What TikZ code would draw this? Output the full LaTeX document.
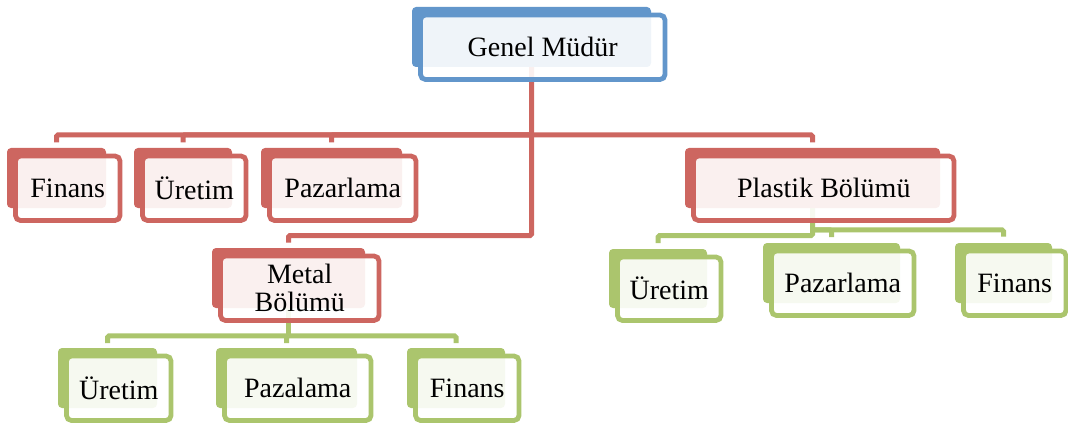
\documentclass[tikz,border=0pt]{standalone}
\usepackage{fontspec}
\setmainfont{Liberation Serif}
\usetikzlibrary{calc}

\pgfdeclarelayer{links}
\pgfsetlayers{links,main}

\definecolor{unitblue}{RGB}{98,150,203}
\definecolor{unitred}{RGB}{205,102,96}
\definecolor{unitgreen}{RGB}{171,197,109}

\tikzset{
  tabbox/.style={rounded corners=4pt, inner sep=0pt, outer sep=0pt, draw=none},
  frontbox/.style={rounded corners=5pt, line width=4.8pt, fill=white,
    fill opacity=0.9, draw opacity=1, text opacity=1, text=black,
    inner sep=0pt, outer sep=0pt, align=center,
    font=\fontsize{28}{28}\selectfont},
  link/.style={line width=5pt, rounded corners=1.5pt},
}

% #1 name, #2 colour, #3/#4 centre of the coloured tab, #5/#6 tab size, #7 label
\newcommand{\orgunit}[7]{%
  \node[tabbox, fill=#2, minimum width=#5pt, minimum height=#6pt] (#1) at (#3,#4) {};
  \node[frontbox, draw=#2, minimum width=#5pt+5.5pt, minimum height=#6pt+4.5pt]
    (#1-f) at (#3+11.25,#4+10.25) {#7};
}

\begin{document}
\begin{tikzpicture}[x=1pt,y=-1pt]
\useasboundingbox (0,0) rectangle (1068,425);

% top level
\orgunit{gm}{unitblue}{531.5}{37}{239}{60}{Genel Müdür}

% staff units and divisions
\orgunit{finR}{unitred}{56.5}{178}{99}{60}{Finans}
\orgunit{uretR}{unitred}{183}{178}{98}{60}{Üretim}
\orgunit{pazR}{unitred}{331.5}{178}{141}{60}{Pazarlama}
\orgunit{plastik}{unitred}{812.5}{178}{255}{60}{Plastik Bölümü}
\orgunit{metal}{unitred}{288.5}{278}{153}{60}{Metal\\Bölümü}

% metal division
\orgunit{uretG1}{unitgreen}{107.5}{378}{99}{60}{Üretim}
\orgunit{pazG1}{unitgreen}{286.5}{378}{141}{60}{Pazalama}
\orgunit{finG1}{unitgreen}{456}{378}{98}{60}{Finans}

% plastic division
\orgunit{uretG2}{unitgreen}{658}{278.5}{98}{59}{Üretim}
\orgunit{pazG2}{unitgreen}{831.5}{273}{137}{60}{Pazarlama}
\orgunit{finG2}{unitgreen}{1003.5}{273}{97}{60}{Finans}

\begin{pgfonlayer}{links}
  % red links from the general manager
  \coordinate (rbus) at (531.5,135);
  \coordinate (mbus) at (531.5,235.5);
  \draw[link, unitred] (gm.south) -- (mbus) -| ([yshift=5.5pt]metal.north);
  \draw[link, unitred] (rbus) -| ([yshift=5.5pt]finR.north);
  \draw[link, unitred] (rbus) -| ([yshift=5.5pt]uretR.north);
  \draw[link, unitred] (rbus) -| ([yshift=5.5pt]pazR.north);
  \draw[link, unitred] (rbus) -| ([yshift=5.5pt]plastik.north);

  % green links below the metal division
  \coordinate (g1bus) at (288.5,335.8);
  \draw[link, unitgreen] (metal.south) -- (g1bus);
  \draw[link, unitgreen] (g1bus) -| ([yshift=5pt]uretG1.north);
  \draw[link, unitgreen] (g1bus) -| ([yshift=5pt]pazG1.north);
  \draw[link, unitgreen] (g1bus) -| ([yshift=5pt]finG1.north);

  % green links below the plastic division
  \coordinate (g2busa) at (812.5,235.7);
  \coordinate (g2busb) at (812.5,229.8);
  \draw[link, unitgreen] (plastik.south) -- (g2busa) -| ([yshift=6pt]uretG2.north);
  \draw[link, unitgreen] (g2busb) -| ([yshift=6pt]pazG2.north);
  \draw[link, unitgreen] (g2busb) -| ([yshift=6.5pt]finG2.north);
\end{pgfonlayer}
\end{tikzpicture}
\end{document}
